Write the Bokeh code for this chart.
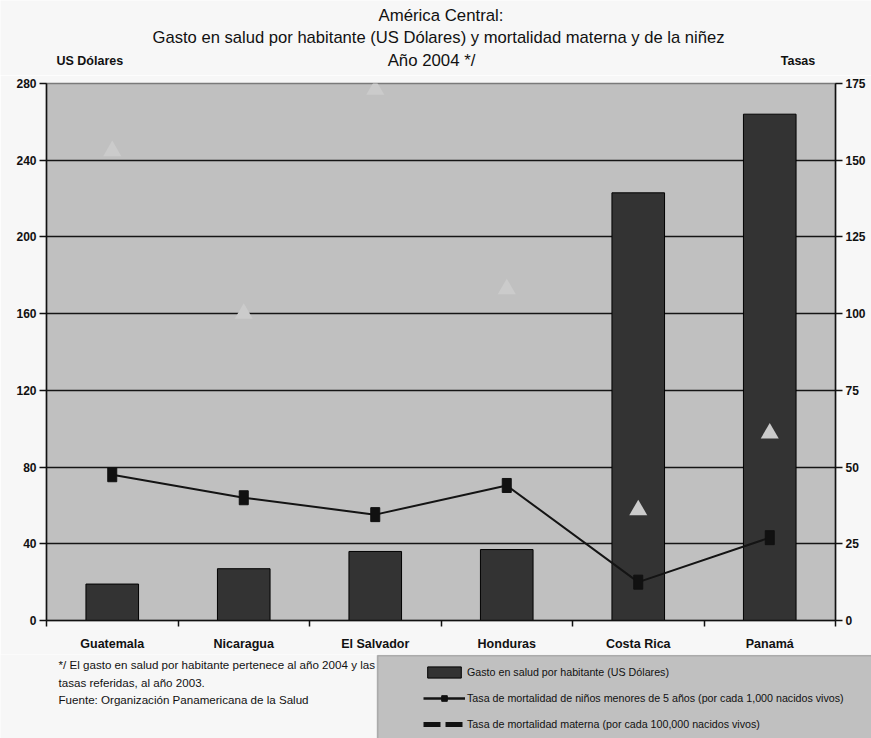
from bokeh.plotting import figure
from bokeh.layouts import column
from bokeh.models import (Range1d, LinearAxis, FixedTicker, Legend,
                          LegendItem, BoxAnnotation)
from bokeh.core.properties import value
from bokeh.embed import file_html
from bokeh.resources import INLINE

# ---- data ----
categories = ["Guatemala", "Nicaragua", "El Salvador", "Honduras", "Costa Rica", "Panamá"]
gasto_salud = [19, 27, 36, 37, 223, 264]          # US Dólares (left axis)
mort_ninez = [47.5, 40, 34.5, 44, 12.5, 27]       # tasa por 1,000 nacidos vivos (right axis)
mort_materna = [153, 100, 173, 108, 36, 61]       # tasa por 100,000 nacidos vivos (right axis)
ticks_usd = [0, 40, 80, 120, 160, 200, 240, 280]
ticks_tasas = [0, 25, 50, 75, 100, 125, 150, 175]

title_lines = ["América Central:",
               "Gasto en salud por habitante (US Dólares) y mortalidad materna y de la niñez",
               "Año 2004 */"]
left_unit = "US Dólares"
right_unit = "Tasas"
footnote = ["*/ El gasto en salud por habitante pertenece al año 2004 y las",
            "tasas referidas, al año 2003.",
            "Fuente: Organización Panamericana de la Salud"]
legend_labels = ["Gasto en salud por habitante (US Dólares)",
                 "Tasa de mortalidad de niños menores de 5 años (por cada 1,000 nacidos vivos)",
                 "Tasa de mortalidad materna (por cada 100,000 nacidos vivos)"]

n = len(categories)
x_pos = [i + 0.5 for i in range(n)]
boundaries = list(range(n + 1))
NAN = float("nan")

FONT = "Liberation Sans"
BLACK = "#111111"
PAGE = "#f7f7f7"
W = 871
H_TOP, H_MAIN, H_BOT = 75, 579, 84


def text_fig(height, y0):
    f = figure(width=W, height=height, x_range=Range1d(0, W),
               y_range=Range1d(y0 + height, y0),
               x_axis_location=None, y_axis_location=None,
               output_backend="svg", toolbar_location=None, min_border=0,
               frame_align=False)
    f.xgrid.visible = False
    f.ygrid.visible = False
    f.outline_line_color = None
    f.background_fill_color = PAGE
    f.border_fill_color = PAGE
    return f


def txt(f, x, y, t, size, align="center", style="normal"):
    f.text(x=[x], y=[y], text=[t], text_align=align, text_baseline="middle",
           text_font=value(FONT), text_font_size=size, text_font_style=style,
           text_color=BLACK)


# ---------- top: titles ----------
top = text_fig(H_TOP, 0)
txt(top, 440.5, 15, title_lines[0], "16.8px")
txt(top, 438, 37, title_lines[1], "16.6px")
txt(top, 431, 60, title_lines[2], "16.8px")
txt(top, 56, 60, left_unit, "12.5px", align="left", style="bold")
txt(top, 797.5, 60, right_unit, "12.5px", style="bold")

# ---------- main chart ----------
p = figure(width=W, height=H_MAIN, title=None,
           x_range=Range1d(0, n), y_range=Range1d(0, ticks_usd[-1]),
           output_backend="svg", toolbar_location=None, frame_align=False,
           min_border_left=46, min_border_right=36,
           min_border_top=8, min_border_bottom=34)
p.extra_y_ranges = {"tasas": Range1d(0, ticks_tasas[-1])}

p.background_fill_color = "#c0c0c0"
p.border_fill_color = PAGE
p.outline_line_color = "#7a7a7a"
p.outline_line_width = 1.5

p.xgrid.visible = False
p.ygrid.ticker = FixedTicker(ticks=ticks_usd)
p.ygrid.grid_line_color = "#151515"
p.ygrid.grid_line_width = 1.4


def style_y(ax):
    ax.axis_line_color = BLACK
    ax.axis_line_width = 1.5
    ax.major_tick_line_color = BLACK
    ax.major_tick_line_width = 1.5
    ax.major_tick_out = 7
    ax.major_tick_in = 0
    ax.minor_tick_line_color = None
    ax.major_label_text_font = FONT
    ax.major_label_text_font_style = "bold"
    ax.major_label_text_font_size = "12px"
    ax.major_label_text_color = BLACK
    ax.major_label_standoff = 3


p.yaxis.ticker = FixedTicker(ticks=ticks_usd)
style_y(p.yaxis[0])

ra = LinearAxis(y_range_name="tasas", ticker=FixedTicker(ticks=ticks_tasas))
style_y(ra)
p.add_layout(ra, "right")

xa = p.xaxis[0]
xa.ticker = FixedTicker(ticks=x_pos, minor_ticks=boundaries)
xa.major_label_overrides = {x: c for x, c in zip(x_pos, categories)}
xa.axis_line_color = BLACK
xa.axis_line_width = 1.5
xa.major_tick_out = 0
xa.major_tick_in = 0
xa.minor_tick_out = 6
xa.minor_tick_in = 0
xa.minor_tick_line_color = BLACK
xa.minor_tick_line_width = 1.5
xa.major_label_text_font = FONT
xa.major_label_text_font_style = "bold"
xa.major_label_text_font_size = "12.5px"
xa.major_label_text_color = BLACK
xa.major_label_standoff = 10

BAR_STYLE = dict(fill_color="#333333", line_color="#000000", line_width=1)
LINE_STYLE = dict(line_color="#141414", line_width=2)
MARK_STYLE = dict(fill_color="#111111", line_color="#111111")

p.vbar(x=x_pos, top=gasto_salud, width=0.4, **BAR_STYLE)
p.line(x_pos, mort_ninez, y_range_name="tasas", **LINE_STYLE)
p.rect(x_pos, mort_ninez, width=9, height=14, width_units="screen", height_units="screen",
       y_range_name="tasas", **MARK_STYLE)
p.scatter(x_pos, mort_materna, marker="triangle", size=18, y_range_name="tasas",
          fill_color="#cbcbcb", line_color=None)

# ---------- bottom: footnote + legend ----------
y_bot0 = H_TOP + H_MAIN
bot = text_fig(H_BOT, y_bot0)
for i, t in enumerate(footnote):
    txt(bot, 58, 664 + 17.5 * i, t, "11.6px", align="left")

bot.add_layout(BoxAnnotation(left=377, right=1000, top=655, bottom=800,
                             fill_color="#c0c0c0", fill_alpha=1,
                             line_color="#3a3a3a", line_width=1.5))

# legend-only renderers (no visible data)
lg_bar = bot.vbar(x=[NAN], top=[NAN], width=1, **BAR_STYLE)
lg_line = bot.line([NAN], [NAN], line_color="#141414", line_width=2.5)
lg_mark = bot.scatter([NAN], [NAN], marker="square", size=8, **MARK_STYLE)
lg_dash = bot.line([NAN], [NAN], line_color="#111111", line_width=5, line_dash="17 5")

legend = Legend(items=[LegendItem(label=legend_labels[0], renderers=[lg_bar]),
                       LegendItem(label=legend_labels[1], renderers=[lg_line, lg_mark]),
                       LegendItem(label=legend_labels[2], renderers=[lg_dash])],
                location=(423, 7), padding=0, spacing=12, margin=0,
                glyph_width=42, glyph_height=14, label_height=14,
                label_standoff=2,
                label_text_font=FONT, label_text_font_size="10.7px",
                label_text_color=BLACK,
                background_fill_alpha=0, border_line_alpha=0)
bot.add_layout(legend)

layout = column(top, p, bot, spacing=0)
open("out.html", "w").write(file_html(layout, INLINE))
